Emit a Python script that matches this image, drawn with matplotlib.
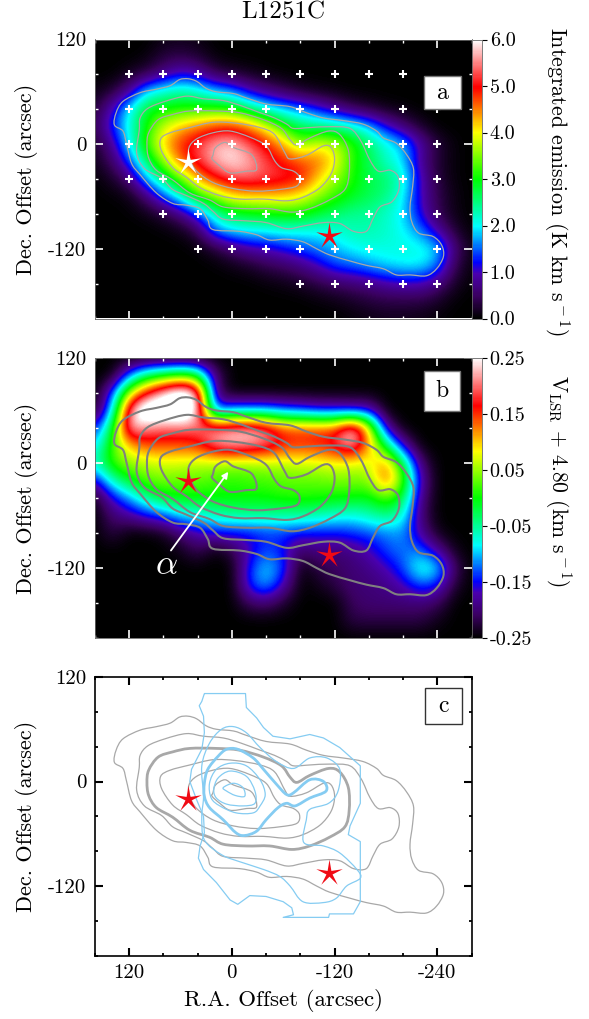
import matplotlib
matplotlib.use('Agg')
import matplotlib.pyplot as plt
import numpy as np
from matplotlib.colors import LinearSegmentedColormap
from matplotlib.patches import PathPatch, Rectangle
from matplotlib.path import Path

plt.rcParams['font.family'] = ['cmr10', 'DejaVu Serif']
plt.rcParams['mathtext.fontset'] = 'cm'
plt.rcParams['axes.unicode_minus'] = False
plt.rcParams['axes.formatter.use_mathtext'] = True

# image grids, 20 arcsec steps, x = 160..-280, y = 120..-200
grid_x = list(range(160, -281, -20))
grid_y = list(range(120, -201, -20))

emission = np.array([
    [0, 0, 0, 0, .1, .15, .1, 0, 0, 0, 0, 0, 0, 0, 0, 0, 0, 0, 0, 0, 0, 0, 0],
    [0, 0, 0, .05, .3, .35, .25, .05, 0, 0, 0, 0, 0, 0, 0, 0, 0, 0, 0, 0, 0, 0, 0],
    [0, 0, .15, .35, .7, 1.1, .9, .4, .25, .15, .05, 0, 0, 0, 0, 0, 0, 0, 0, 0, 0, 0, 0],
    [.1, .25, .8, 1.9, 2.2, 2.4, 2.2, 1.8, 1.6, 1.0, .7, .45, .2, .1, .05, 0, 0, 0, 0, 0, 0, 0, 0],
    [.25, 1.0, 2.0, 2.9, 3.0, 3.1, 3.1, 3.2, 3.1, 2.6, 2.1, 1.8, 1.6, 1.2, .8, .45, .25, .1, .05, 0, 0, 0, 0],
    [.4, 1.3, 2.1, 3.0, 3.8, 4.2, 4.5, 4.7, 4.8, 4.5, 3.9, 3.1, 2.6, 2.5, 2.4, 2.2, 1.8, 1.1, .6, .2, 0, 0, 0],
    [.2, .8, 2.0, 3.2, 4.2, 4.9, 5.2, 5.7, 5.8, 5.3, 4.9, 4.3, 3.4, 3.9, 3.7, 3.2, 2.6, 2.1, 1.8, .9, .3, .05, 0],
    [.15, .5, 1.4, 2.6, 3.6, 4.6, 5.2, 5.7, 5.95, 5.7, 5.2, 4.9, 4.7, 4.6, 4.1, 3.1, 2.7, 2.2, 1.9, .8, .25, .05, 0],
    [.03, .2, .6, 1.8, 2.6, 3.4, 4.3, 4.9, 5.3, 5.4, 5.3, 5.2, 5.0, 4.2, 3.6, 3.1, 2.7, 2.6, 2.2, 1.0, .3, .05, 0],
    [0, .03, .1, .6, 1.5, 2.2, 3.2, 3.6, 4.1, 4.2, 4.2, 4.2, 4.0, 3.6, 3.2, 2.9, 2.7, 2.5, 2.0, 1.0, .4, .1, 0],
    [0, 0, .02, .1, .3, .7, 1.4, 2.3, 2.8, 2.9, 3.0, 3.1, 3.1, 2.8, 2.6, 2.4, 2.4, 2.2, 1.9, 1.1, .4, .1, 0],
    [0, 0, 0, 0, .03, .1, .4, 1.6, 1.9, 2.0, 2.0, 2.1, 2.05, 2.05, 2.1, 2.3, 2.3, 2.2, 2.0, 1.6, .9, .25, .03],
    [0, 0, 0, 0, 0, 0, .05, .25, .6, .9, 1.0, 1.2, 1.4, 1.6, 1.8, 2.0, 2.1, 2.1, 2.1, 2.1, 1.9, .6, .1],
    [0, 0, 0, 0, 0, 0, 0, .02, .1, .2, .4, .5, .7, 1.0, 1.4, 1.5, 1.7, 1.9, 2.0, 2.0, 1.6, .4, .05],
    [0, 0, 0, 0, 0, 0, 0, 0, 0, 0, .05, .1, .2, .35, .5, .6, .7, .9, 1.0, 1.0, .7, .2, .02],
    [0, 0, 0, 0, 0, 0, 0, 0, 0, 0, 0, 0, 0, .05, .1, .2, .3, .35, .35, .35, .2, .03, 0],
    [0, 0, 0, 0, 0, 0, 0, 0, 0, 0, 0, 0, 0, 0, 0, .05, .1, .15, .15, .1, .05, 0, 0],
])

velocity = np.array([
    [-.25] * 23,
    [-.25, -.25, -.12, -.03, 0, .03, 0, -.2, -.25, -.25, -.25, -.25, -.25, -.25, -.25, -.25, -.25, -.25, -.25, -.25, -.25, -.25, -.25],
    [-.25, -.14, .07, .17, .25, .3, .25, -.2, -.25, -.25, -.25, -.25, -.25, -.25, -.25, -.25, -.25, -.25, -.25, -.25, -.25, -.25, -.25],
    [-.24, -.1, .22, .32, .3, .33, .25, -.14, -.1, -.1, -.1, -.12, -.13, -.15, -.15, -.16, -.16, -.25, -.25, -.25, -.25, -.25, -.25],
    [-.15, -.02, .24, .21, .2, .2, .2, .22, .23, .24, .21, .15, .15, .15, .15, .26, .1, -.18, -.25, -.25, -.25, -.25, -.25],
    [-.1, .02, .1, .14, .14, .14, .15, .21, .23, .22, .2, .16, .15, .16, .18, .24, .11, -.02, -.17, -.25, -.25, -.25, -.25],
    [-.06, .02, .05, .06, .07, .07, .06, .06, .05, .05, .06, .06, .07, .07, .08, .07, .07, .13, -.02, -.2, -.25, -.25, -.25],
    [-.17, -.06, -.01, .03, .04, .03, .03, .02, .01, .02, .02, .03, .03, .03, .04, .04, .04, .15, .03, -.17, -.25, -.25, -.25],
    [-.24, -.16, -.11, -.05, -.01, 0, 0, 0, 0, 0, 0, .01, .01, .01, 0, 0, -.01, .03, -.02, -.19, -.25, -.25, -.25],
    [-.25, -.2, -.18, -.15, -.13, -.09, -.08, -.06, -.05, -.05, -.05, -.05, -.05, -.06, -.07, -.08, -.06, -.04, -.07, -.2, -.25, -.25, -.25],
    [-.25, -.22, -.25, -.25, -.24, -.2, -.17, -.15, -.15, -.15, -.14, -.14, -.15, -.15, -.15, -.14, -.13, -.12, -.11, -.18, -.24, -.25, -.25],
    [-.25, -.25, -.25, -.25, -.25, -.24, -.21, -.25, -.22, -.17, -.13, -.15, -.21, -.19, -.2, -.19, -.17, -.13, -.12, -.12, -.18, -.24, -.25],
    [-.25, -.25, -.25, -.25, -.25, -.25, -.25, -.25, -.25, -.14, -.09, -.13, -.25, -.22, -.21, -.2, -.19, -.17, -.13, -.06, -.08, -.21, -.25],
    [-.25, -.25, -.25, -.25, -.25, -.25, -.25, -.25, -.25, -.14, -.1, -.17, -.25, -.24, -.22, -.2, -.2, -.19, -.17, -.13, -.15, -.23, -.25],
    [-.25, -.25, -.25, -.25, -.25, -.25, -.25, -.25, -.25, -.21, -.2, -.23, -.25, -.25, -.25, -.21, -.2, -.2, -.2, -.2, -.21, -.25, -.25],
    [-.25, -.25, -.25, -.25, -.25, -.25, -.25, -.25, -.25, -.25, -.25, -.25, -.25, -.25, -.25, -.22, -.22, -.22, -.22, -.22, -.24, -.25, -.25],
    [-.25] * 23,
])

# integrated emission contours
gray1 = [(137, 22), (135, 36), (127, 49), (107, 59), (88, 63), (72, 67), (61, 74), (51, 75), (41, 72), (30, 64),
         (18, 60), (-2, 58), (-17, 53), (-40, 46), (-68, 43), (-87, 36), (-107, 30), (-130, 27), (-153, 23),
         (-169, 15), (-177, 7), (-192, 1), (-204, -12), (-212, -28), (-211, -49), (-208, -72), (-210, -89),
         (-218, -102), (-235, -106), (-245, -116), (-247, -129), (-239, -143), (-227, -151), (-208, -150),
         (-192, -150), (-177, -143), (-157, -139), (-138, -134), (-114, -127), (-99, -120), (-83, -112),
         (-64, -109), (-44, -110), (-29, -104), (-9, -100), (22, -98), (28, -87), (37, -74), (53, -70), (69, -68),
         (88, -56), (107, -35), (117, -22), (123, 1), (127, 15)]
gray2 = [(108, 16), (107, 30), (98, 41), (78, 49), (53, 55), (33, 52), (10, 50), (-11, 44), (-33, 36), (-50, 30),
         (-64, 23), (-72, 18), (-91, 19), (-114, 20), (-138, 18), (-151, 3), (-161, -18), (-171, -31), (-185, -30),
         (-194, -37), (-195, -52), (-187, -66), (-173, -72), (-165, -85), (-157, -100), (-142, -100), (-126, -91),
         (-107, -90), (-83, -94), (-64, -97), (-40, -90), (-17, -88), (10, -86), (22, -77), (33, -68), (53, -59),
         (69, -52), (82, -39), (102, -28), (111, -10)]
gray3 = [(99, -1), (97, 13), (86, 28), (69, 34), (49, 38), (18, 38), (-9, 36), (-37, 28), (-58, 18), (-68, 5),
         (-76, -1), (-91, 7), (-113, 15), (-126, 11), (-136, -7), (-137, -33), (-132, -52), (-114, -64), (-91, -74),
         (-70, -78), (-44, -74), (-17, -74), (10, -72), (26, -64), (49, -56), (69, -41), (88, -30), (97, -16)]
gray4 = [(83, 6), (72, 13), (49, 19), (22, 25), (-5, 24), (-33, 19), (-50, 11), (-62, -10), (-68, -17), (-87, -13),
         (-107, -2), (-116, -4), (-120, -17), (-116, -34), (-103, -50), (-83, -61), (-64, -65), (-37, -63), (-9, -63),
         (14, -59), (37, -50), (53, -38), (69, -27), (82, -8)]
gray5 = [(50, -4), (41, 6), (22, 13), (2, 15), (-21, 8), (-40, -2), (-50, -19), (-58, -27), (-72, -31), (-79, -38),
         (-76, -48), (-56, -52), (-29, -54), (-2, -51), (22, -44), (41, -31), (49, -17)]
gray6 = [(22, -13), (19, -4), (8, 2), (-2, -4), (-23, -12), (-29, -29), (-17, -31), (2, -33), (14, -25), (23, -17)]
gray_contours = [gray1, gray2, gray3, gray4, gray5, gray6]

# second tracer contours, panel c
blue1 = [(32, 101), (-16, 101), (-17, 85), (-29, 73), (-37, 62), (-48, 52), (-68, 49), (-91, 54), (-107, 50),
         (-126, 39), (-150, 18), (-150, -25), (-138, -51), (-136, -61), (-150, -69), (-150, -138), (-142, -152),
         (-114, -152), (-113, -156), (-60, -156), (-72, -153), (-70, -145), (-60, -138), (-40, -132), (-21, -131),
         (-7, -141), (2, -136), (18, -116), (33, -101), (39, -88), (37, -74), (32, -59), (33, -40), (41, -21),
         (49, 0), (47, 14), (35, 37), (32, 56), (33, 75), (38, 87), (35, 92)]
blue2 = [(35, 18), (26, 44), (12, 60), (-2, 63), (-17, 56), (-33, 39), (-52, 23), (-72, 15), (-91, 27), (-111, 27),
         (-126, 14), (-124, -11), (-113, -25), (-91, -32), (-87, -44), (-84, -70), (-107, -74), (-126, -82),
         (-146, -101), (-150, -111), (-134, -120), (-122, -134), (-107, -139), (-83, -138), (-68, -120), (-56, -109),
         (-37, -101), (-9, -92), (12, -84), (32, -67), (35, -40), (33, -17)]
blue3 = [(32, -2), (28, 14), (16, 29), (6, 37), (-7, 37), (-25, 27), (-37, 14), (-52, -3), (-64, -15), (-72, -13),
         (-91, 2), (-107, 0), (-110, -11), (-91, -19), (-74, -28), (-64, -25), (-54, -30), (-40, -44), (-29, -57),
         (-15, -62), (-5, -59), (10, -44), (26, -30), (32, -17)]
blue4 = [(26, -2), (18, 14), (2, 21), (-17, 18), (-33, 2), (-39, -15), (-33, -28), (-25, -36), (-5, -36), (14, -28),
         (24, -19)]
blue5 = [(21, -9), (16, 4), (2, 12), (-17, 6), (-27, -11), (-27, -25), (-13, -28), (6, -26), (18, -19)]
blue6 = [(10, -7), (-2, -2), (-13, -7), (-15, -17), (-4, -16), (6, -11)]
blue_contours = [blue1, blue2, blue3, blue4, blue5, blue6]

# white pointing crosses, one list of x per row
cross_rows = {
    80: [120, 80, 40, 0, -40, -80, -120, -160, -200],
    40: [120, 80, 40, 0, -40, -80, -120, -200, -240],
    0: [120, 40, 0, -40, -80, -120, -160, -200, -240],
    -40: [120, 80, 40, 0, -40, -80, -120, -160, -200, -240],
    -80: [80, 40, 0, -40, -80, -120, -160, -200, -240],
    -120: [40, 0, -40, -80, -120, -160, -200, -240],
    -160: [-80, -120, -160, -200, -240],
}
star_white = (51, -20)
star_red = (-113, -105)

cb_ticks_a = [0, 1, 2, 3, 4, 5, 6]
cb_labels_a = ['0.0', '1.0', '2.0', '3.0', '4.0', '5.0', '6.0']
cb_ticks_b = [-.25, -.15, -.05, .05, .15, .25]
cb_labels_b = ['-0.25', '-0.15', '-0.05', '0.05', '0.15', '0.25']

rainbow = LinearSegmentedColormap.from_list('rainbow_white', [
    (0.0, '#000000'), (0.08, '#3a0060'), (0.16, '#4a00b0'), (0.2, '#0000ff'), (0.33, '#00ffff'),
    (0.5, '#00ff00'), (0.667, '#ffff00'), (0.83, '#ff0000'), (1.0, '#ffffff')])

W, H = 589, 1019
star = Path.unit_regular_star(5, innerCircle=0.23)
extent = [170, -290, -210, 130]
xlim = (160, -280)
ylim = (-200, 120)
RED = '#f00a14'


def add_axes(top, bottom, left=94.7, right=471.7):
    return fig.add_axes([left / W, 1 - bottom / H, (right - left) / W, (bottom - top) / H])


def style_ax(ax, color, width=1.2):
    ax.set_xlim(xlim)
    ax.set_ylim(ylim)
    ax.set_xticks([120, 0, -120, -240])
    ax.set_xticks(range(160, -281, -40), minor=True)
    ax.set_yticks([120, 0, -120])
    ax.set_yticks(range(-200, 121, 40), minor=True)
    ax.set_yticklabels(['120', '0', '-120'], fontsize=15)
    ax.tick_params(which='major', direction='in', length=5.5, width=width, color=color, top=True, right=True)
    ax.tick_params(which='minor', direction='in', length=2.4, width=width - .2, color=color, top=True, right=True)
    ax.tick_params(axis='y', pad=6)
    ax.set_ylabel('Dec. Offset (arcsec)', fontsize=16, labelpad=7)


def letter_box(ax, x0, y0, x1, y1, letter, edge):
    ax.add_patch(Rectangle((x0, y0), x1 - x0, y1 - y0, transform=ax.transAxes, fc='white', ec=edge, lw=1.0, zorder=6))
    ax.text((x0 + x1) / 2, (y0 + y1) / 2, letter, transform=ax.transAxes, ha='center', va='center', fontsize=17, zorder=7)


def closed_curve(pts):
    # closed catmull-rom through the read points, only so the line is not faceted
    p = np.array(pts, dtype=float)
    prev_p, next_p, next2 = np.roll(p, 1, axis=0), np.roll(p, -1, axis=0), np.roll(p, -2, axis=0)
    c1 = p + (next_p - prev_p) / 6
    c2 = next_p - (next2 - p) / 6
    verts = [p[0]]
    codes = [Path.MOVETO]
    for a, b, c in zip(c1, c2, next_p):
        verts += [a, b, c]
        codes += [Path.CURVE4] * 3
    return Path(verts, codes)


def draw_contours(ax, contours, color, lw, thick=None, straight=()):
    for i, pts in enumerate(contours):
        w = 2.0 if i == thick else lw
        path = Path(pts + pts[:1]) if i in straight else closed_curve(pts)
        ax.add_patch(PathPatch(path, fill=False, ec=color, lw=w, joinstyle='round', zorder=3))


def add_colorbar(im, top, bottom, ticks, labels):
    cax = add_axes(top, bottom, 472, 482)
    cb = fig.colorbar(im, cax=cax, ticks=ticks)
    cb.ax.set_yticklabels(labels, fontsize=14.5)
    cb.ax.tick_params(length=3.5, width=0.8, pad=2)
    cb.outline.set_edgecolor('#666666')
    cb.outline.set_linewidth(0.6)


fig = plt.figure(figsize=(W / 100, H / 100), dpi=100)

# panel a
ax_a = add_axes(39.5, 318.5)
im_a = ax_a.imshow(emission, extent=extent, aspect='auto', cmap=rainbow, vmin=0, vmax=6, interpolation='bicubic')
draw_contours(ax_a, gray_contours, '#a8a8a8', 0.9)
for row_y, row_x in cross_rows.items():
    ax_a.plot(row_x, [row_y] * len(row_x), '+', color='white', ms=6, mew=1.5, zorder=4)
ax_a.plot(*star_white, marker=star, color='white', ms=20, mew=0, zorder=5)
ax_a.plot(*star_red, marker=star, color=RED, ms=20, mew=0, zorder=5)
style_ax(ax_a, 'white')
ax_a.set_xticklabels([])
for s in ax_a.spines.values():
    s.set_color('#666666')
    s.set_linewidth(0.6)
letter_box(ax_a, 0.874, 0.87, 0.971, 0.75, 'a', '#777777')
add_colorbar(im_a, 39.5, 318.5, cb_ticks_a, cb_labels_a)
fig.text(283 / W, 1 - 12 / H, 'L1251C', ha='center', va='center', fontsize=18)
fig.text(557 / W, 1 - 181 / H, r'Integrated emission (K km s$^{\rm -1}$)', rotation=270, ha='center', va='center', fontsize=15.8)

# panel b
ax_b = add_axes(358, 638)
im_b = ax_b.imshow(velocity, extent=extent, aspect='auto', cmap=rainbow, vmin=-.25, vmax=.25, interpolation='bicubic')
draw_contours(ax_b, gray_contours, '#808080', 1.5)
ax_b.plot(*star_white, marker=star, color=RED, ms=20, mew=0, zorder=5)
ax_b.plot(*star_red, marker=star, color=RED, ms=20, mew=0, zorder=5)
ax_b.annotate('', xy=(4, -10), xytext=(71, -100), zorder=6,
              arrowprops=dict(arrowstyle='-|>', color='white', lw=1.3, mutation_scale=9, shrinkA=0, shrinkB=0))
ax_b.text(76, -117, r'$\alpha$', color='white', fontsize=25, ha='center', va='center', zorder=6)
style_ax(ax_b, 'white')
ax_b.set_xticklabels([])
for s in ax_b.spines.values():
    s.set_color('#666666')
    s.set_linewidth(0.6)
letter_box(ax_b, 0.873, 0.954, 0.969, 0.811, 'b', '#777777')
add_colorbar(im_b, 358, 638, cb_ticks_b, cb_labels_b)
fig.text(558 / W, 1 - 481 / H, r'V$_{\rm LSR}$ + 4.80 (km s$^{\rm -1}$)', rotation=270, ha='center', va='center', fontsize=15.5)

# panel c
ax_c = add_axes(677, 955.7)
draw_contours(ax_c, gray_contours, '#a8a8a8', 0.9, thick=2)
draw_contours(ax_c, blue_contours, '#85ccf2', 0.9, thick=2, straight=(0,))
ax_c.plot(*star_white, marker=star, color=RED, ms=20, mew=0, zorder=5)
ax_c.plot(*star_red, marker=star, color=RED, ms=20, mew=0, zorder=5)
style_ax(ax_c, 'black', width=1.5)
ax_c.set_xticklabels(['120', '0', '-120', '-240'], fontsize=15)
ax_c.tick_params(axis='x', pad=6)
ax_c.set_xlabel('R.A. Offset (arcsec)', fontsize=16.5, labelpad=5)
for s in ax_c.spines.values():
    s.set_linewidth(1.2)
letter_box(ax_c, 0.877, 0.96, 0.973, 0.83, 'c', '#333333')

fig.savefig('out.png', dpi=100)
